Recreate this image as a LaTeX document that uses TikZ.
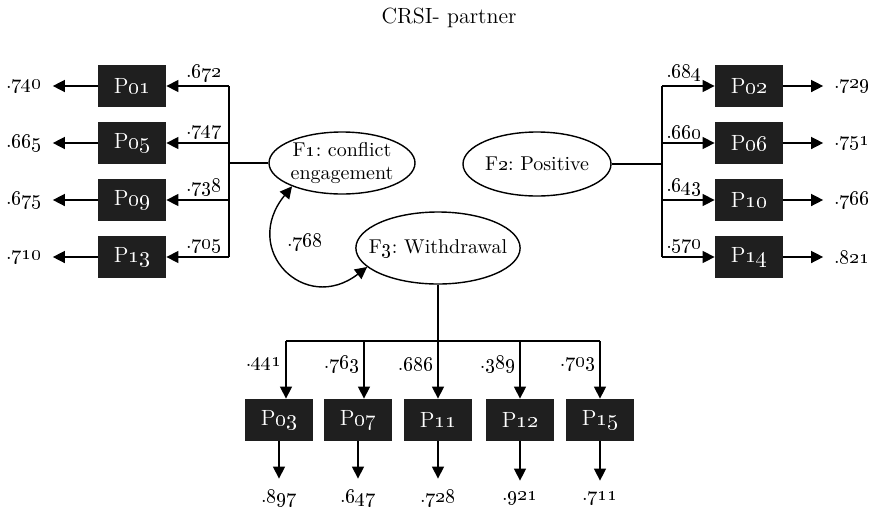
\documentclass[tikz,border=0pt]{standalone}
\usetikzlibrary{arrows.meta,shapes.geometric}
\newcommand\osn[1]{\oldstylenums{#1}}
\frenchspacing
\begin{document}
\begin{tikzpicture}[x=0.5pt,y=-0.5pt, font=\fontsize{10}{12}\selectfont,
  obs/.style={fill=black!88, text=white, minimum width=34pt, minimum height=21pt, inner sep=0pt, font=\fontsize{11}{13}\selectfont},
  lat/.style={draw, ellipse, line width=0.7pt, inner sep=0pt, align=center},
  arr/.style={-{Triangle[length=6pt,width=6pt]}},
  ln/.style={line width=0.7pt},
  lab/.style={inner sep=2pt}]
\useasboundingbox (0,0) rectangle (878,510);
\node[font=\fontsize{11}{13}\selectfont] (title) at (449,18) {CRSI- partner};
% left indicators
\node[obs] (p01) at (132,86) {P\osn{01}};
\node[obs] (p05) at (132,143) {P\osn{05}};
\node[obs] (p09) at (132,200) {P\osn{09}};
\node[obs] (p13) at (132,257) {P\osn{13}};
% right indicators
\node[obs] (p02) at (749,86) {P\osn{02}};
\node[obs] (p06) at (749,143) {P\osn{06}};
\node[obs] (p10) at (749,200) {P\osn{10}};
\node[obs] (p14) at (749,257) {P\osn{14}};
% bottom indicators
\node[obs] (p03) at (279,420) {P\osn{03}};
\node[obs] (p07) at (358,420) {P\osn{07}};
\node[obs] (p11) at (438,420) {P\osn{11}};
\node[obs] (p12) at (520,420) {P\osn{12}};
\node[obs] (p15) at (600,420) {P\osn{15}};
% error labels
\node (e01) at (24,86) {.\osn{740}};
\node (e05) at (24,143) {.\osn{665}};
\node (e09) at (24,200) {.\osn{675}};
\node (e13) at (24,257) {.\osn{710}};
\node (e02) at (852,86) {.\osn{729}};
\node (e06) at (852,143) {.\osn{751}};
\node (e10) at (852,200) {.\osn{766}};
\node (e14) at (852,257) {.\osn{821}};
\node (e03) at (279,498) {.\osn{897}};
\node (e07) at (358,498) {.\osn{647}};
\node (e11) at (438,498) {.\osn{728}};
\node (e12) at (520,498) {.\osn{921}};
\node (e15) at (600,498) {.\osn{711}};
% latent factors
\node[lat, minimum width=73pt, minimum height=31pt, font=\fontsize{10}{11.5}\selectfont] (f1) at (342,163) {F\osn{1}: conflict\\engagement};
\node[lat, minimum width=74pt, minimum height=32pt] (f2) at (537,164) {F\osn{2}: Positive};
\node[lat, minimum width=74pt, minimum height=36pt, inner xsep=-5.5pt] (f3) at (438,248) {F\osn{3}: Withdrawal};
% F1 loadings
\coordinate (jl) at (229,163);
\draw[ln] (f1.west) -- (jl);
\draw[ln] (jl |- p01) -- (jl |- p13);
\foreach \p/\v in {p01/672, p05/747, p09/738, p13/705}
  \draw[ln,arr] (jl |- \p) -- node[above, pos=0.4, lab]{.\osn{\v}} (\p.east);
\foreach \p/\e in {p01/e01, p05/e05, p09/e09, p13/e13}
  \draw[ln,arr,shorten >=2pt] (\p) -- (\e);
% F2 loadings
\coordinate (jr) at (662,164);
\draw[ln] (f2.east) -- (jr);
\draw[ln] (jr |- p02) -- (jr |- p14);
\foreach \p/\v in {p02/684, p06/660, p10/643, p14/570}
  \draw[ln,arr] (jr |- \p) -- node[above, pos=0.42, lab]{.\osn{\v}} (\p.west);
\foreach \p/\e in {p02/e02, p06/e06, p10/e10, p14/e14}
  \draw[ln,arr,shorten >=2pt] (\p) -- (\e);
% F3 loadings
\coordinate (bm) at (438,341);
\coordinate (c1) at (286,341);
\coordinate (c2) at (364,341);
\coordinate (c4) at (520,341);
\coordinate (c5) at (600,341);
\draw[ln] (f3) -- (bm);
\draw[ln] (c1) -- (c5);
\foreach \c/\p/\v in {c1/p03/441, c2/p07/763, bm/p11/686, c4/p12/389, c5/p15/703}
  \draw[ln,arr] (\c) -- node[left, pos=0.4, lab]{.\osn{\v}} (\c |- \p.north);
\foreach \p/\e in {p03/e03, p07/e07, p11/e11, p12/e12, p15/e15}
  \draw[ln,arr,shorten >=2pt] (\p) -- (\e);
% covariance
\draw[ln,{Triangle[length=6pt,width=6pt]}-{Triangle[length=6pt,width=6pt]}]
  (f1.205) .. controls (240,250) and (305,315) .. (f3.195);
\node (r13) at (305,242) {.\osn{768}};
\end{tikzpicture}
\end{document}
